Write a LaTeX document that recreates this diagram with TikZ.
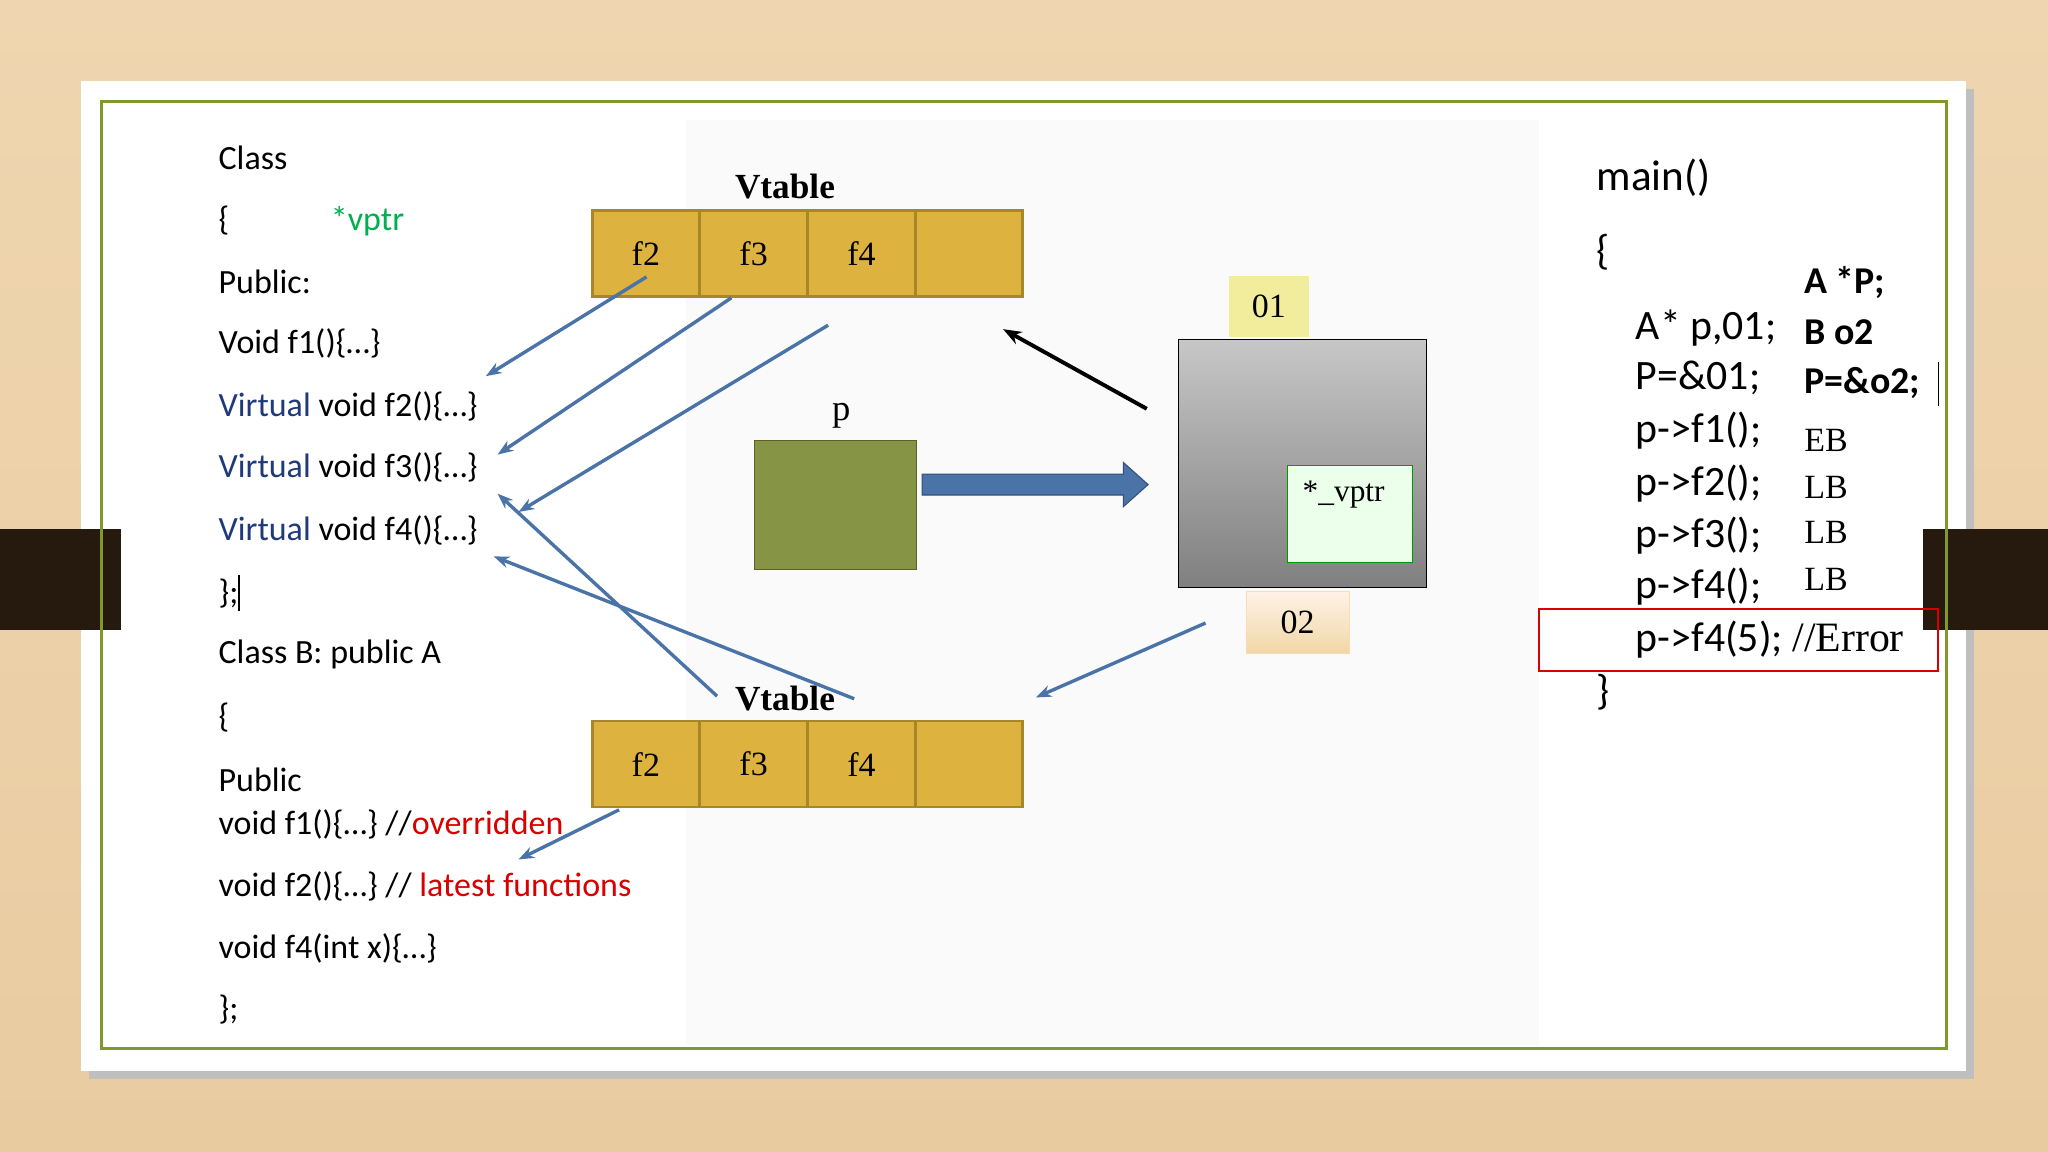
\documentclass[tikz,border=0pt]{standalone}
\usepackage{fontspec}
\setmainfont{Liberation Serif}
\newfontfamily\calfnt{Carlito}
\usetikzlibrary{arrows.meta}
\definecolor{gold}{HTML}{DDB23F}
\definecolor{goldb}{HTML}{A8862A}
\definecolor{bl}{HTML}{4A73A8}
\definecolor{navy}{HTML}{1F3A7A}
\definecolor{gr}{HTML}{00B050}
\definecolor{wood}{HTML}{EFD6B0}
\definecolor{woodb}{HTML}{E9CBA0}
\definecolor{frame}{HTML}{7F9A2A}
\tikzset{
 cell/.style={draw=goldb,fill=gold,line width=1pt,minimum width=41pt,minimum height=33pt,inner sep=0pt,font=\fontsize{13}{15}\selectfont},
 code/.style={anchor=west,inner sep=0pt,font=\calfnt\fontsize{13}{15}\selectfont},
 rcode/.style={anchor=west,inner sep=0pt,font=\calfnt\fontsize{16}{18}\selectfont},
 rb/.style={anchor=west,inner sep=0pt,font=\calfnt\bfseries\fontsize{14.5}{16}\selectfont},
 ser/.style={anchor=west,inner sep=0pt,font=\fontsize{13}{15}\selectfont},
 bline/.style={bl,line width=1.3pt,-{Stealth[length=6pt]}},
}
\begin{document}
\begin{tikzpicture}[x=0.5pt,y=-0.5pt]
\shade[top color=wood,bottom color=woodb] (0,0) rectangle (1568,882);
\useasboundingbox (0,0) rectangle (1568,882);
\fill[black!25] (68,68) rectangle (1511,826);
\fill[white] (62,62) rectangle (1505,820);
\fill[black!2] (525,92) rectangle (1178,800);
\fill[white] (1178,92) rectangle (1398,570);
\fill[black!80!brown] (0,405) rectangle (93,482);
\fill[black!80!brown] (1472,405) rectangle (1568,482);
\draw[frame,line width=1.2pt] (78,78) rectangle (1490,803);
% left code
\node[code] (l1) at (167,121) {Class};
\node[code] (l2) at (167,169) {\{};
\node[code,text=gr] (vp) at (253,169) {*vptr};
\node[code] (l3) at (167,216) {Public:};
\node[code] (l4) at (167,263) {Void f1()\{…\}};
\node[code] (l5) at (167,311) {\textcolor{navy}{Virtual} void f2()\{…\}};
\node[code] (l6) at (167,358) {\textcolor{navy}{Virtual} void f3()\{…\}};
\node[code] (l7) at (167,406) {\textcolor{navy}{Virtual} void f4()\{…\}};
\node[code] (l8) at (167,454) {\};\rule[-3pt]{0.6pt}{14pt}};
\node[code] (l9) at (167,501) {Class B: public A};
\node[code] (l10) at (167,549) {\{};
\node[code] (l11) at (167,597) {Public};
\node[code] (l12) at (167,631) {void f1()\{…\} //\textcolor{red!85!black}{overridden}};
\node[code] (l13) at (167,679) {void f2()\{…\} // \textcolor{red!85!black}{latest functions}};
\node[code] (l14) at (167,726) {void f4(int x)\{…\}};
\node[code] (l15) at (167,773) {\};};
% vtables
\node[font=\bfseries\fontsize{13.5}{15}\selectfont] (vt1) at (601,143) {Vtable};
\node[cell] (a1) at (494.5,194) {f2};
\node[cell] (a2) at (577,194) {f3};
\node[cell] (a3) at (659.5,194) {f4};
\node[cell] (a4) at (742,194) {};
\node[font=\bfseries\fontsize{13.5}{15}\selectfont] (vt2) at (601,535) {Vtable};
\node[cell] (b1) at (494.5,585) {f2};
\node[cell] (b2) at (577,585) {f3};
\node[cell] (b3) at (659.5,585) {f4};
\node[cell] (b4) at (742,585) {};
% p
\node[font=\fontsize{14}{16}\selectfont] (pl) at (644,318) {p};
\node[draw=olive!60!black,fill=olive!70!green!75!black!80!white,minimum width=62pt,minimum height=49.5pt,inner sep=0pt] (p) at (640,386.5) {};
\fill[bl,draw=bl!70!black] (706,363) -- (860,363) -- (860,354) -- (879,371) -- (860,388) -- (860,379) -- (706,379) -- cycle;
% object
\shade[top color=black!22,bottom color=black!50,draw=black] (902,260) rectangle (1092,450);
\node[fill=olive!35!yellow!35!white,minimum width=30.5pt,minimum height=23.5pt,inner sep=0pt,font=\fontsize{13}{15}\selectfont] (o1) at (971.5,234.5) {01};
\node[draw=green!60!black,fill=green!8!white,minimum width=48pt,minimum height=37pt,inner sep=0pt,anchor=north west] (vptr) at (985,356) {};
\node[ser,font=\fontsize{12}{14}\selectfont] (vt) at (997,379) {*\_vptr};
\node[top color=orange!10!white,bottom color=orange!50!yellow!45!brown!40!white,draw=orange!30,minimum width=39.5pt,minimum height=23.5pt,inner sep=0pt,font=\fontsize{13}{15}\selectfont] (o2) at (993.5,476.5) {02};
\coordinate (k1) at (878,313); \coordinate (k2) at (768,252);
\draw[black,line width=1.5pt,-{Stealth[length=7pt]}] (k1) -- (k2);
\coordinate (m1) at (923,477); \coordinate (m2) at (793,534);
\draw[bline] (m1) -- (m2);
% blue connectors
\coordinate (s1) at (495,212); \coordinate (e1) at (372,288);
\coordinate (s2) at (560,228); \coordinate (e2) at (381,348);
\coordinate (s3) at (634,249); \coordinate (e3) at (397,392);
\coordinate (s4) at (549,533); \coordinate (e4) at (381,378);
\coordinate (s5) at (654,535); \coordinate (e5) at (378,426);
\coordinate (s6) at (474,620); \coordinate (e6) at (397,658);
\foreach \i in {1,...,6}{\draw[bline] (s\i) -- (e\i);}
% right code
\node[rcode,font=\calfnt\fontsize{16.5}{18}\selectfont] (mn) at (1222,136) {main()};
\node[rcode] (r0) at (1222,193) {\{};
\node[rcode] (r1) at (1252,251) {A* p,01;};
\node[rcode] (r2) at (1252,289) {P=\&01;};
\node[rcode] (r3) at (1252,330) {p->f1();};
\node[rcode] (r4) at (1252,370) {p->f2();};
\node[rcode] (r5) at (1252,410) {p->f3();};
\node[rcode] (r6) at (1252,449) {p->f4();};
\node[rcode] (r7) at (1252,490) {p->f4(5); \textrm{//Error}};
\node[rcode] (r8) at (1222,530) {\}};
\node[rb] (q1) at (1381,216) {A *P;};
\node[rb] (q2) at (1381,254) {B o2};
\node[rb] (q3) at (1381,293) {P=\&o2;};
\draw[black] (1484,277) -- (1484,311);
\node[ser] (x1) at (1381,337) {EB};
\node[ser] (x2) at (1381,373) {LB};
\node[ser] (x3) at (1381,408) {LB};
\node[ser] (x4) at (1381,444) {LB};
\draw[red!85!black,line width=0.8pt] (1178,466) rectangle (1484,514);
\end{tikzpicture}
\end{document}
